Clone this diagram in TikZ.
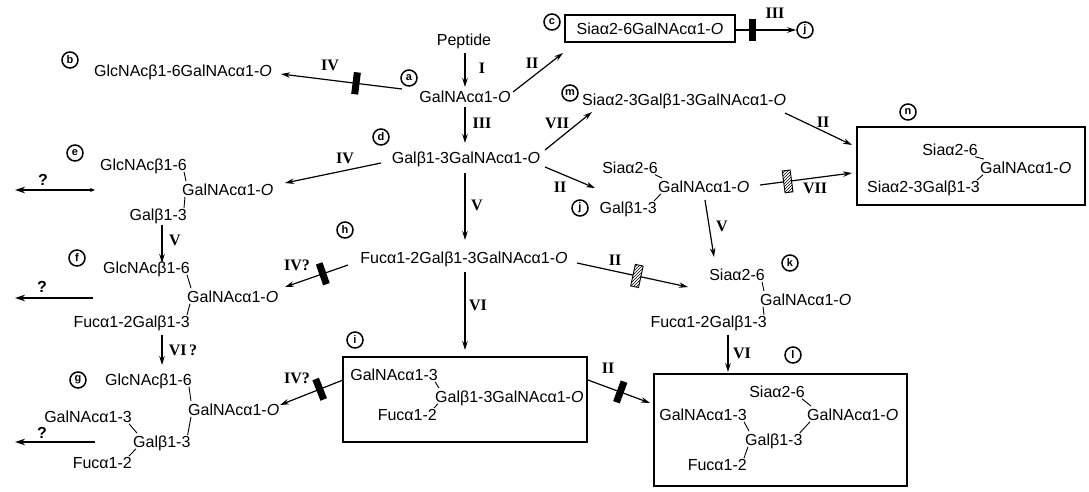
\documentclass[tikz,border=0pt]{standalone}
\usepackage{fontspec}
\setmainfont{Liberation Sans}
\newfontfamily\romf{Liberation Serif}
\usetikzlibrary{arrows.meta,patterns}
\tikzset{
 txt/.style={font=\fontsize{16}{18}\selectfont, inner sep=0pt, text height=11.5pt, text depth=0pt},
 circ/.style={circle, draw, line width=1.5pt, inner sep=0pt, minimum size=16pt, font=\bfseries\fontsize{11}{12}\selectfont},
 rom/.style={font=\romf\bfseries\fontsize{16}{17}\selectfont, inner sep=0pt},
 qm/.style={font=\bfseries\fontsize{16}{18}\selectfont, inner sep=0pt},
 arr/.style={line width=1.2pt, -{Stealth[length=9pt,width=5.5pt]}},
 qarr/.style={line width=2pt, -{Stealth[length=10pt,width=6.5pt]}},
 qarrb/.style={line width=2pt, {Stealth[length=5pt,width=4pt]}-{Stealth[length=10pt,width=6.5pt]}},
 lnk/.style={line width=0.9pt},
 frame/.style={draw, line width=1.7pt, inner sep=0pt},
 blk/.style={fill=black, minimum width=7pt, minimum height=22pt, inner sep=0pt, sloped},
 hatch/.style={draw, line width=0.9pt, preaction={fill=white}, pattern=north east lines, minimum width=8pt, minimum height=22pt, inner sep=0pt, sloped},
}
\begin{document}
\begin{tikzpicture}[x=1pt,y=-1pt]
\path[fill=white] (0,0) rectangle (1089,491);
\useasboundingbox (0,0) rectangle (1089,491);

% ---- top / a, b, c
\node[txt] (pep) at (464,40) {Peptide};
\node[txt] (ta) at (465,97) {GalNAcα1-\textit{O}};
\node[circ] (ca) at (409,78) {a};
\node[txt] (tb) at (183,71) {GlcNAcβ1-6GalNAcα1-\textit{O}};
\node[circ] (cb) at (70,60) {b};
\node[circ] (cc) at (552,22) {c};
\node[txt, frame, minimum width=170pt, minimum height=27pt] (tc) at (650,28.5) {Siaα2-6GalNAcα1-\textit{O}};
\node[circ] (cjt) at (805,30) {j};

% ---- d, m, n
\node[txt] (td) at (466,158) {Galβ1-3GalNAcα1-\textit{O}};
\node[circ] (cd) at (381,137) {d};
\node[circ] (cm) at (570,93) {m};
\node[txt, anchor=west] (tm) at (582,100) {Siaα2-3Galβ1-3GalNAcα1-\textit{O}};
\node[circ] (cn) at (908,112) {n};
\node[frame, minimum width=228pt, minimum height=78pt] (nbox) at (971,166) {};
\node[txt, anchor=east] (n1) at (978,150) {Siaα2-6};
\node[txt, anchor=west] (n2) at (980,168) {GalNAcα1-\textit{O}};
\node[txt, anchor=east] (n3) at (980,187) {Siaα2-3Galβ1-3};

% ---- j
\node[txt, anchor=east] (j1) at (658,168) {Siaα2-6};
\node[txt, anchor=west] (j2) at (658,187) {GalNAcα1-\textit{O}};
\node[txt, anchor=east] (j3) at (657,208) {Galβ1-3};
\node[circ] (cj) at (580,208) {j};

% ---- e
\node[circ] (ce) at (75,153) {e};
\node[txt, anchor=east] (e1) at (187,165) {GlcNAcβ1-6};
\node[txt, anchor=west] (e2) at (182,190) {GalNAcα1-\textit{O}};
\node[txt, anchor=east] (e3) at (187,215) {Galβ1-3};
\node[qm] (qe) at (43,180) {?};

% ---- f
\node[circ] (cf) at (77,258) {f};
\node[txt, anchor=east] (f1) at (190,268) {GlcNAcβ1-6};
\node[txt, anchor=west] (f2) at (187,297) {GalNAcα1-\textit{O}};
\node[txt, anchor=east] (f3) at (190,322) {Fucα1-2Galβ1-3};
\node[qm] (qf) at (42,287) {?};

% ---- g
\node[circ] (cg) at (78,380) {g};
\node[txt, anchor=east] (g1) at (192,380) {GlcNAcβ1-6};
\node[txt, anchor=west] (g2) at (188,410) {GalNAcα1-\textit{O}};
\node[txt, anchor=east] (g3) at (132,417) {GalNAcα1-3};
\node[txt, anchor=west] (g4) at (133,442) {Galβ1-3};
\node[txt, anchor=east] (g5) at (132,463) {Fucα1-2};
\node[qm] (qg) at (42,433) {?};

% ---- h
\node[circ] (ch) at (345,230) {h};
\node[txt] (th) at (464,258) {Fucα1-2Galβ1-3GalNAcα1-\textit{O}};

% ---- i
\node[circ] (ci) at (355,340) {i};
\node[frame, minimum width=244pt, minimum height=85pt] (ibox) at (465,399.5) {};
\node[txt, anchor=east] (i1) at (438,375) {GalNAcα1-3};
\node[txt, anchor=west] (i2) at (435,397) {Galβ1-3GalNAcα1-\textit{O}};
\node[txt, anchor=east] (i3) at (437,415) {Fucα1-2};

% ---- k
\node[circ] (ck) at (790,263) {k};
\node[txt, anchor=east] (k1) at (765,275) {Siaα2-6};
\node[txt, anchor=west] (k2) at (760,300) {GalNAcα1-\textit{O}};
\node[txt, anchor=east] (k3) at (767,322) {Fucα1-2Galβ1-3};

% ---- l
\node[circ] (cl) at (793,355) {l};
\node[frame, minimum width=253pt, minimum height=112pt] (lbox) at (780.5,430) {};
\node[txt, anchor=east] (l1) at (805,392) {Siaα2-6};
\node[txt, anchor=west] (l3) at (807,415) {GalNAcα1-\textit{O}};
\node[txt, anchor=east] (l2) at (747,415) {GalNAcα1-3};
\node[txt, anchor=west] (l4) at (745,440) {Galβ1-3};
\node[txt, anchor=east] (l5) at (747,465) {Fucα1-2};

% ---- enzyme labels
\node[rom] (lI) at (482,68) {I};
\node[rom] (lIIac) at (532,63) {II};
\node[rom] (lIII) at (482,123) {III};
\node[rom] (lIVab) at (330,65) {IV};
\node[rom] (lIIIcj) at (775,13) {III};
\node[rom] (lIVde) at (345,158) {IV};
\node[rom] (lVdh) at (477,205) {V};
\node[rom] (lVIhi) at (478,305) {VI};
\node[rom] (lVIIdm) at (557,123) {VII};
\node[rom] (lIIdj) at (560,187) {II};
\node[rom] (lIImn) at (823,122) {II};
\node[rom] (lVIIjn) at (815,188) {VII};
\node[rom] (lVjk) at (722,226) {V};
\node[rom] (lIIhk) at (615,260) {II};
\node[rom] (lVIkl) at (742,353) {VI};
\node[rom] (lIIil) at (608,368) {II};
\node[rom] (lIVhf) at (297,265) {IV?};
\node[rom] (lIVig) at (297,378) {IV?};
\node[rom] (lVef) at (175,240) {V};
\node[rom] (lVIfg) at (183,350) {VI\,?};

% ---- reaction arrows
\draw[arr] ([shift={(1,13)}]pep.center) -- ([shift={(0,-10)}]ta.center);
\draw[arr] ([shift={(-63,-8)}]ta.center) -- node[blk, pos=0.38] (barab) {} ([shift={(98,3)}]tb.center);
\draw[arr] ([shift={(48,-5)}]ta.center) -- ([shift={(11,31)}]cc.center);
\draw[arr] ([shift={(0,10)}]ta.center) -- ([shift={(-1,-15)}]td.center);
\draw[arr] (tc.east |- cjt.west) -- node[blk, pos=0.27] (barcj) {} (cjt.west);
\draw[arr] ([shift={(-85,5)}]td.center) -- ([shift={(103,-7)}]e2.west);
\draw[arr] ([shift={(79,-8)}]td.center) -- ([shift={(10,12)}]tm.west);
\draw[arr] ([shift={(79,9)}]td.center) -- ([shift={(-63,20)}]j1.east);
\draw[arr] ([shift={(-1,15)}]td.center) -- ([shift={(1,-18)}]th.center);
\draw[arr] ([shift={(203,13)}]tm.west) -- ([shift={(-119,-21)}]nbox.center);
\draw[arr] ([shift={(102,-2)}]j2.west) -- node[hatch, pos=0.3] (barjn) {} ([shift={(-119,7)}]nbox.center);
\draw[arr] ([shift={(47,13)}]j2.west) -- ([shift={(-51,-18)}]k1.east);
\draw[arr] ([shift={(113,5)}]th.center) -- node[hatch, pos=0.54] (barhk) {} ([shift={(-77,12)}]k1.east);
\draw[arr] ([shift={(-116,7)}]th.center) -- node[blk, pos=0.4] (barhf) {} ([shift={(98,-10)}]f2.west);
\draw[arr] ([shift={(1,14)}]th.center) -- ([shift={(0,-49.5)}]ibox.center);
\draw[arr] ([shift={(-122,-19.5)}]ibox.center) -- node[blk, pos=0.37] (barig) {} ([shift={(92,-5)}]g2.west);
\draw[arr] ([shift={(123,-19.5)}]ibox.center) -- node[blk, pos=0.52] (baril) {} ([shift={(-130.5,-27)}]lbox.center);
\draw[arr] ([shift={(-39,13)}]k3.east) -- ([shift={(-52.5,-58)}]lbox.center);
\draw[arr] ([shift={(-25,10)}]e3.east) -- ([shift={(-28,-5)}]f1.east);
\draw[arr] ([shift={(-28,13)}]f3.east) -- ([shift={(-30,-15)}]g1.east);
\draw[qarrb] ([shift={(52,10)}]qe.center) -- ([shift={(-28,10)}]qe.center);
\draw[qarr] ([shift={(51,11)}]qf.center) -- ([shift={(-27,11)}]qf.center);
\draw[qarr] ([shift={(53,9)}]qg.center) -- ([shift={(-27,9)}]qg.center);

% ---- glycosidic links in branched structures
\draw[lnk] ([shift={(-3,1)}]e1.base east) -- ([shift={(4,-3)}]e2.north west);
\draw[lnk] ([shift={(3,1)}]e2.base west) -- ([shift={(-3,-1)}]e3.north east);
\draw[lnk] ([shift={(-3,1)}]f1.base east) -- ([shift={(4,-3)}]f2.north west);
\draw[lnk] ([shift={(3,1)}]f2.base west) -- ([shift={(-3,-1)}]f3.north east);
\draw[lnk] ([shift={(-3,1)}]g1.base east) -- ([shift={(3,-3)}]g2.north west);
\draw[lnk] ([shift={(3,1)}]g2.base west) -- ([shift={(-3,-1)}]g4.north east);
\draw[lnk] ([shift={(-3,1)}]g3.base east) -- ([shift={(4,-3)}]g4.north west);
\draw[lnk] ([shift={(3,1)}]g4.base west) -- ([shift={(-3,-1)}]g5.north east);
\draw[lnk] ([shift={(-3,1)}]j1.base east) -- ([shift={(4,-3)}]j2.north west);
\draw[lnk] ([shift={(3,1)}]j2.base west) -- ([shift={(-3,-1)}]j3.north east);
\draw[lnk] ([shift={(-3,1)}]k1.base east) -- ([shift={(4,-3)}]k2.north west);
\draw[lnk] ([shift={(3,1)}]k2.base west) -- ([shift={(-3,-1)}]k3.north east);
\draw[lnk] ([shift={(-3,1)}]n1.base east) -- ([shift={(4,-3)}]n2.north west);
\draw[lnk] ([shift={(3,1)}]n2.base west) -- ([shift={(-3,-1)}]n3.north east);
\draw[lnk] ([shift={(-3,1)}]i1.base east) -- ([shift={(4,-3)}]i2.north west);
\draw[lnk] ([shift={(3,1)}]i2.base west) -- ([shift={(-3,-1)}]i3.north east);
\draw[lnk] ([shift={(-3,1)}]l1.base east) -- ([shift={(4,-3)}]l3.north west);
\draw[lnk] ([shift={(-3,1)}]l2.base east) -- ([shift={(4,-3)}]l4.north west);
\draw[lnk] ([shift={(-3,-1)}]l4.north east) -- ([shift={(3,1)}]l3.base west);
\draw[lnk] ([shift={(3,1)}]l4.base west) -- ([shift={(-3,-1)}]l5.north east);
\end{tikzpicture}
\end{document}
